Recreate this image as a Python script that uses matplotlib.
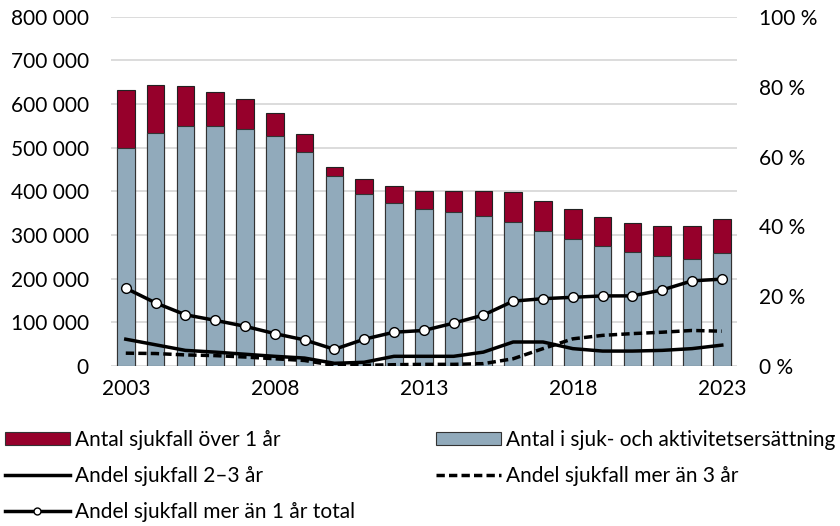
import matplotlib.pyplot as plt
import matplotlib.ticker as mticker
from matplotlib.patches import Patch
from matplotlib.lines import Line2D
import numpy as np

plt.rcParams['font.family'] = ['Lato', 'DejaVu Sans']

# data
years = list(range(2003, 2024))
over_1_ar_total = [632000, 643000, 642000, 628000, 612000, 580000, 531000, 457000, 428000, 413000,
                   401000, 401000, 400000, 399000, 378000, 359000, 342000, 327000, 320000, 322000, 338000]
sjuk_aktivitet = [500000, 533000, 550000, 549000, 544000, 528000, 491000, 436000, 395000, 373000,
                  360000, 353000, 343000, 329000, 310000, 290000, 274000, 261000, 252000, 246000, 258000]
andel_2_3 = [7.7, 6.1, 4.5, 4.0, 3.4, 2.8, 2.3, 0.8, 1.1, 2.8,
             2.8, 2.8, 4.0, 6.9, 6.9, 5.0, 4.3, 4.3, 4.5, 5.0, 6.0]
andel_over_3 = [3.7, 3.6, 3.2, 3.0, 2.6, 2.1, 1.6, 0.2, 0.2, 0.4,
                0.5, 0.5, 0.7, 2.1, 5.0, 7.8, 8.8, 9.3, 9.7, 10.2, 10.0]
andel_total = [22.3, 18.1, 14.7, 13.1, 11.4, 9.3, 7.5, 4.8, 7.7, 9.7,
               10.2, 12.3, 14.6, 18.6, 19.3, 19.7, 20.1, 20.1, 21.8, 24.4, 24.9]

red = '#96002B'
blue = '#91AABB'
dash = (0, (2.4, 1.2))
x = np.arange(len(years))

fig = plt.figure(figsize=(8.4, 5.26), dpi=100)
ax = fig.add_axes([0.132, 0.304, 0.745, 0.664])
ax2 = ax.twinx()

# red total bar behind, blue in front
ax.bar(x, over_1_ar_total, width=0.59, color=red, edgecolor='#222222', linewidth=0.8, zorder=2)
ax.bar(x, sjuk_aktivitet, width=0.59, color=blue, edgecolor='#333333', linewidth=0.8, zorder=3)

ax2.plot(x, andel_2_3, color='black', lw=2.5, zorder=4)
ax2.plot(x, andel_over_3, color='black', lw=2.5, ls=dash, zorder=4)
ax2.plot(x, andel_total, color='black', lw=2.5, marker='o', ms=7,
         mfc='white', mec='black', mew=1.0, zorder=5)

ax.set_ylim(0, 800000)
ax.set_xlim(-0.5, 20.5)
ax2.set_ylim(0, 100)
ax.yaxis.set_major_locator(mticker.MultipleLocator(100000))
ax.yaxis.set_major_formatter(mticker.FuncFormatter(lambda v, p: '{:,.0f}'.format(v).replace(',', ' ')))
ax2.yaxis.set_major_locator(mticker.MultipleLocator(20))
ax2.yaxis.set_major_formatter(mticker.FuncFormatter(lambda v, p: '{:.0f} %'.format(v)))

ax.set_xticks(x[::5])
ax.set_xticklabels([str(y) for y in years[::5]])

ax.grid(axis='y', color='#D9D9D9', lw=1.3, zorder=0)
ax.set_axisbelow(True)
for a in (ax, ax2):
    for s in a.spines.values():
        s.set_visible(False)
ax.tick_params(axis='y', length=0, pad=16, labelsize=15)
ax.tick_params(axis='x', length=0, pad=9, labelsize=15)
ax2.tick_params(axis='y', length=0, pad=16, labelsize=15)

# legend at the bottom
h_red = Patch(facecolor=red, edgecolor='#333333', linewidth=0.8)
h_blue = Patch(facecolor=blue, edgecolor='#333333', linewidth=0.8)
h_23 = Line2D([], [], color='black', lw=2.5)
h_3 = Line2D([], [], color='black', lw=2.5, ls=dash)
h_tot = Line2D([], [], color='black', lw=2.5, marker='o', ms=5, mfc='white', mec='black', mew=1.0)
fig.legend([h_red, h_23, h_tot, h_blue, h_3],
           ['Antal sjukfall över 1 år', 'Andel sjukfall 2–3 år', 'Andel sjukfall mer än 1 år total',
            'Antal i sjuk- och aktivitetsersättning', 'Andel sjukfall mer än 3 år'],
           ncol=2, loc='upper left', bbox_to_anchor=(0.006, 0.183), frameon=False,
           fontsize=15, handlelength=3.1, handleheight=0.6, handletextpad=0.25,
           columnspacing=3.9, labelspacing=0.78, borderaxespad=0, borderpad=0)

fig.savefig('out.png', dpi=100)
